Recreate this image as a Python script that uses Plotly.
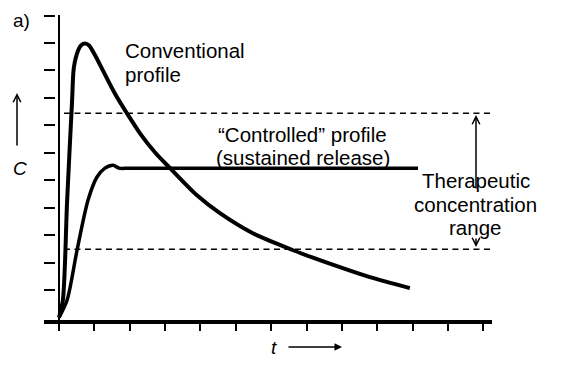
import plotly.graph_objects as go

# ---------------- data (arbitrary units) ----------------
conv_t = [0.0, 0.11, 0.23, 0.37, 0.42, 0.54, 0.62, 0.74, 0.85, 1.02, 1.24, 1.58, 1.92,
          2.29, 2.71, 3.14, 3.90, 4.55, 5.48, 6.62, 7.86, 8.79, 9.92]
conv_c = [0.0, 0.64, 4.27, 7.91, 9.11, 9.73, 9.91, 9.98, 9.91, 9.55, 9.00, 8.16, 7.44,
          6.71, 6.02, 5.44, 4.45, 3.80, 3.07, 2.45, 1.87, 1.47, 1.07]

ctrl_t = [0.0, 0.23, 0.51, 0.82, 1.07, 1.30, 1.53, 1.70, 2.00, 10.15]
ctrl_c = [0.0, 0.64, 2.45, 4.27, 5.11, 5.44, 5.55, 5.44, 5.44, 5.44]

range_upper = 7.44
range_lower = 2.49
range_t = [0.14, 12.19]

x_ticks = list(range(0, 13))
y_ticks = list(range(1, 12))

# ---------------- geometry (page pixels; the page body adds an 8px offset) -----
OFF = 8
W, H = 567 - OFF, 376 - OFF
PLOT_L, PLOT_R, PLOT_T, PLOT_B = 0, 492, 15, 320          # page pixels
ML, MR = PLOT_L, (567 - PLOT_R)
MT, MB = PLOT_T - OFF, (376 - PLOT_B)
plotw = PLOT_R - OFF - ML
ploth = PLOT_B - PLOT_T

PX_X0, PX_PER_X = 59.0, 35.37
PX_Y0, PX_PER_Y = 317.5, 27.5
def X(px):
    return (px - PX_X0) / PX_PER_X
def Y(py):
    return (PX_Y0 - py) / PX_PER_Y
def XP(px):
    return (px - OFF - ML) / plotw
def YP(py):
    return (PLOT_B - py) / ploth

FONT = "Liberation Sans, Arial, Helvetica, sans-serif"
BLACK = "#000000"

fig = go.Figure()

for lvl in (range_upper, range_lower):
    fig.add_trace(go.Scatter(x=range_t, y=[lvl, lvl], mode="lines",
                             line=dict(color=BLACK, width=1.5, dash="6px,4.5px"),
                             hoverinfo="skip", showlegend=False))

fig.add_trace(go.Scatter(x=ctrl_t, y=ctrl_c, mode="lines",
                         line=dict(color=BLACK, width=3.5, shape="spline", smoothing=0.8),
                         showlegend=False))
fig.add_trace(go.Scatter(x=conv_t, y=conv_c, mode="lines",
                         line=dict(color=BLACK, width=4, shape="spline", smoothing=0.8),
                         showlegend=False))
fig.add_trace(go.Scatter(x=[None], y=[None], yaxis="y2", showlegend=False, hoverinfo="skip"))

yr = [Y(PLOT_B), Y(PLOT_T) + 0.02]

fig.update_layout(
    width=W, height=H,
    margin=dict(l=ML, r=MR, t=MT, b=MB, autoexpand=False),
    paper_bgcolor="white", plot_bgcolor="white",
    xaxis=dict(domain=[XP(44), 1], range=[X(44), X(PLOT_R)],
               showline=True, linewidth=4, linecolor=BLACK,
               ticks="outside", ticklen=7, tickwidth=2, tickcolor=BLACK,
               tickvals=x_ticks, showticklabels=False,
               showgrid=False, zeroline=False),
    yaxis=dict(range=yr, anchor="free", position=XP(59),
               showline=True, linewidth=2, linecolor=BLACK,
               ticks="", showticklabels=False, showgrid=False, zeroline=False),
    yaxis2=dict(range=yr, overlaying="y", anchor="free", position=XP(55),
                showline=False, ticks="outside", ticklen=11, tickwidth=2,
                tickcolor=BLACK, tickvals=y_ticks, showticklabels=False,
                showgrid=False, zeroline=False),
)

def label(text, px, py, size=20.5, xanchor="center", italic=False):
    t = f"<i>{text}</i>" if italic else text
    fig.add_annotation(x=XP(px), y=YP(py), xref="paper", yref="paper", text=t,
                       showarrow=False, xanchor=xanchor, yanchor="middle",
                       font=dict(family=FONT, size=size, color=BLACK))

label("a)", 11, 20, size=19, xanchor="left")
label("Conventional", 123, 50.6, xanchor="left")
label("profile", 123, 74.6, xanchor="left")
label("“Controlled” profile", 302, 134.6)
label("(sustained release)", 303, 157.6)
label("Therapeutic", 476, 180.6)
label("concentration", 475, 204.6)
label("range", 475, 227.6)
label("C", 20, 168, size=19, italic=True)
label("t", 274, 347, size=19, italic=True)

def arrow(px0, py0, px1, py1, head=5, width=1.5):
    fig.add_annotation(x=XP(px1), y=YP(py1), xref="paper", yref="paper",
                       ax=px0 - px1, ay=py0 - py1, axref="pixel", ayref="pixel",
                       text="", showarrow=True, arrowhead=head, arrowsize=1,
                       arrowwidth=width, arrowcolor=BLACK)

arrow(476, 190, 476, 115)
arrow(476, 237, 476, 247)
arrow(17, 147, 17, 93, head=5)
arrow(287, 347, 342, 347, head=2)

fig.write_html("out.html")
